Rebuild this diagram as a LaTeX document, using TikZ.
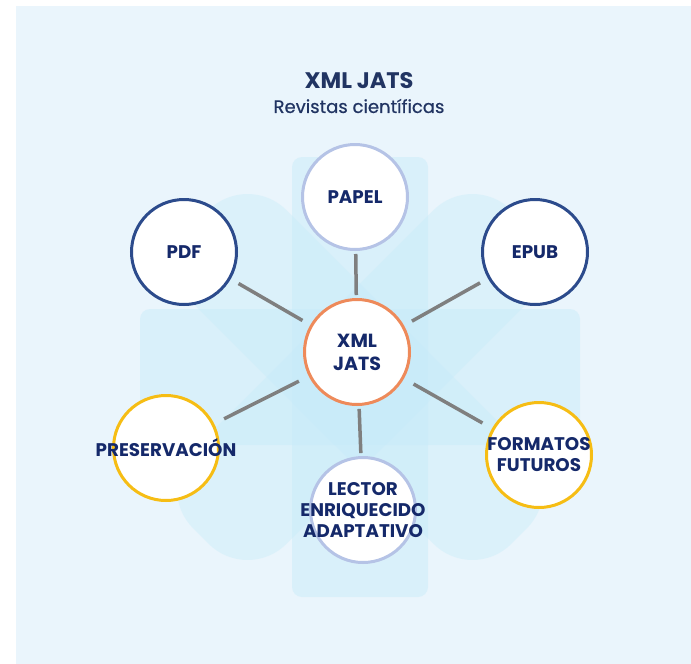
\documentclass[tikz,border=0pt]{standalone}
\usepackage{fontspec}
\setmainfont{Poppins}
\usetikzlibrary{calc,positioning}
\definecolor{bgblue}{HTML}{EAF5FC}
\definecolor{petal}{HTML}{C6EBF9}
\definecolor{navy}{HTML}{15296A}
\definecolor{titlenavy}{HTML}{213462}
\definecolor{ringdark}{HTML}{2C4B8C}
\definecolor{ringlight}{HTML}{B5C3E6}
\definecolor{ringorange}{HTML}{EE8A5A}
\definecolor{ringyellow}{HTML}{F6BD14}
\definecolor{linkgray}{HTML}{7F7F7F}
\begin{document}
\begin{tikzpicture}[x=1pt,y=-1pt,
bubble/.style={circle,draw=#1,line width=3pt,fill=white,minimum size=105pt,inner sep=0pt},
tag/.style={text=navy,align=center,font=\bfseries\fontsize{18.3}{21}\selectfont},
link/.style={draw=linkgray,line width=3.5pt,shorten <=#1,shorten >=#1},
link/.default=9pt]
\useasboundingbox (0,0) rectangle (691,664);
\fill[bgblue] (16,6) rectangle (691,664);
\begin{scope}[shift={(360,377)}]
\foreach \a in {0,90} \fill[petal,fill opacity=.45,rotate=\a,rounded corners=10pt] (-220,-68) rectangle (220,68);
\foreach \a in {45,135} \fill[petal,fill opacity=.4,rotate=\a,rounded corners=55pt] (-225,-66) rectangle (225,66);
\end{scope}
\node[text=titlenavy,font=\bfseries\fontsize{22.5}{26}\selectfont] (title) at (359,81) {XML JATS};
\node[text=titlenavy,font=\fontsize{18}{22}\selectfont\addfontfeature{FakeBold=0.6}] (subtitle) at (359,106) {Revistas científicas};
\node[bubble=ringorange,label={[tag,font=\bfseries\fontsize{19}{23}\selectfont]center:XML\\JATS}] (hub) at (357,352) {};
\node[bubble=ringlight,label={[tag]center:PAPEL}] (papel) at (355,197) {};
\node[bubble=ringdark,label={[tag]center:PDF}] (pdf) at (184,252) {};
\node[bubble=ringdark,label={[tag]center:EPUB}] (epub) at (535,252) {};
\node[bubble=ringyellow,label={[tag]center:PRESERVACIÓN}] (pres) at (166,448) {};
\node[bubble=ringlight,label={[tag]center:LECTOR\\ENRIQUECIDO\\ADAPTATIVO}] (lector) at (363,510) {};
\node[bubble=ringyellow,label={[tag]center:FORMATOS\\FUTUROS}] (futuros) at (539,455) {};
\draw[link=3pt] (hub) -- (papel);
\draw[link=3pt] (hub) -- (lector);
\draw[link] (hub) -- (pdf);
\draw[link] (hub) -- (epub);
\draw[link=11pt] (hub) -- (pres);
\draw[link=11pt] (hub) -- (futuros);
\end{tikzpicture}
\end{document}
